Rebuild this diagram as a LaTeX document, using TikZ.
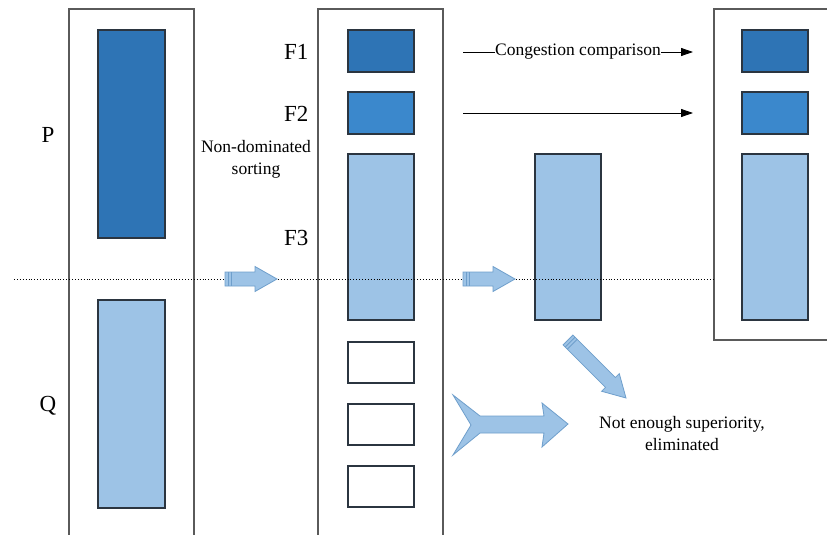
\documentclass[tikz,border=0pt]{standalone}
\usepackage{fontspec}
\setmainfont{Liberation Serif}
\usetikzlibrary{arrows.meta}
\definecolor{c1}{HTML}{2E74B5}
\definecolor{c2}{HTML}{3B88CC}
\definecolor{c3}{HTML}{9DC3E6}
\definecolor{edge}{HTML}{2B3540}
\definecolor{frame}{HTML}{5A5A5A}
\definecolor{arr}{HTML}{6F9FCC}
\tikzset{
  bar/.style={draw=edge,line width=1.2pt},
  pane/.style={draw=frame,line width=1.3pt},
  big/.style={font=\fontsize{23}{27}\selectfont},
  small/.style={font=\fontsize{17.5}{22}\selectfont,align=center},
  shaftlen/.store in=\shaftlen, shaftlen=30,
  blockarrow/.pic={
    \draw[arr,fill=c3,line width=0.8pt] (0,-7)--(\shaftlen,-7)--(\shaftlen,-12.5)--(\shaftlen+22,0)--(\shaftlen,12.5)--(\shaftlen,7)--(0,7)--cycle;
    \draw[arr,line width=0.8pt] (3,-7)--(3,7) (6,-7)--(6,7);}
}
\begin{document}
\begin{tikzpicture}[x=1pt,y=-1pt]
\clip (0,0) rectangle (827,535);
\fill[white] (0,0) rectangle (827,535);
\draw[pane] (69,9) rectangle (194,545);
\draw[pane] (318,9) rectangle (443,545);
\draw[pane] (714,9) rectangle (840,340);
\draw[bar,fill=c1] (98,30) rectangle (165,238);
\draw[bar,fill=c3] (98,300) rectangle (165,508);
\draw[bar,fill=c1] (348,30) rectangle (414,72);
\draw[bar,fill=c2] (348,92) rectangle (414,134);
\draw[bar,fill=c3] (348,154) rectangle (414,320);
\foreach \y in {342,404,466} \draw[bar,fill=white] (348,\y) rectangle (414,\y+41);
\draw[bar,fill=c3] (535,154) rectangle (601,320);
\draw[bar,fill=c1] (742,30) rectangle (808,72);
\draw[bar,fill=c2] (742,92) rectangle (808,134);
\draw[bar,fill=c3] (742,154) rectangle (808,320);
\node[big] (lp) at (48,135) {P};
\node[big] (lq) at (48,406) {Q};
\node[big,anchor=east] (f1) at (312,52) {F1};
\node[big,anchor=east] (f2) at (312,114) {F2};
\node[big,anchor=east] (f3) at (312,238) {F3};
\node[small] (nds) at (256,159) {Non-dominated\\sorting};
\draw[dotted,line width=0.9pt] (14,279) -- (714,279);
\pic at (225,279) {blockarrow};
\pic at (463,279) {blockarrow};
\pic[shaftlen=60,rotate=-45] at (568,340) {blockarrow};
\draw[arr,fill=c3,line width=0.8pt] (453,395)--(480,416)--(544,416)--(542,403)--(568,424)--(542,447)--(544,433)--(480,433)--(453,455)--(471,425)--cycle;
\coordinate (ca) at (463,52);
\coordinate (cb) at (693,52);
\coordinate (da) at (463,113);
\coordinate (db) at (693,113);
\draw[line width=0.8pt,-{Triangle[length=12pt,width=8pt]}] (ca) -- node[small,fill=white,inner sep=0pt] (cc) {Congestion comparison} (cb);
\draw[line width=0.8pt,-{Triangle[length=12pt,width=8pt]}] (da) -- (db);
\node[small] (ne) at (682,434) {Not enough superiority,\\eliminated};
\end{tikzpicture}
\end{document}
